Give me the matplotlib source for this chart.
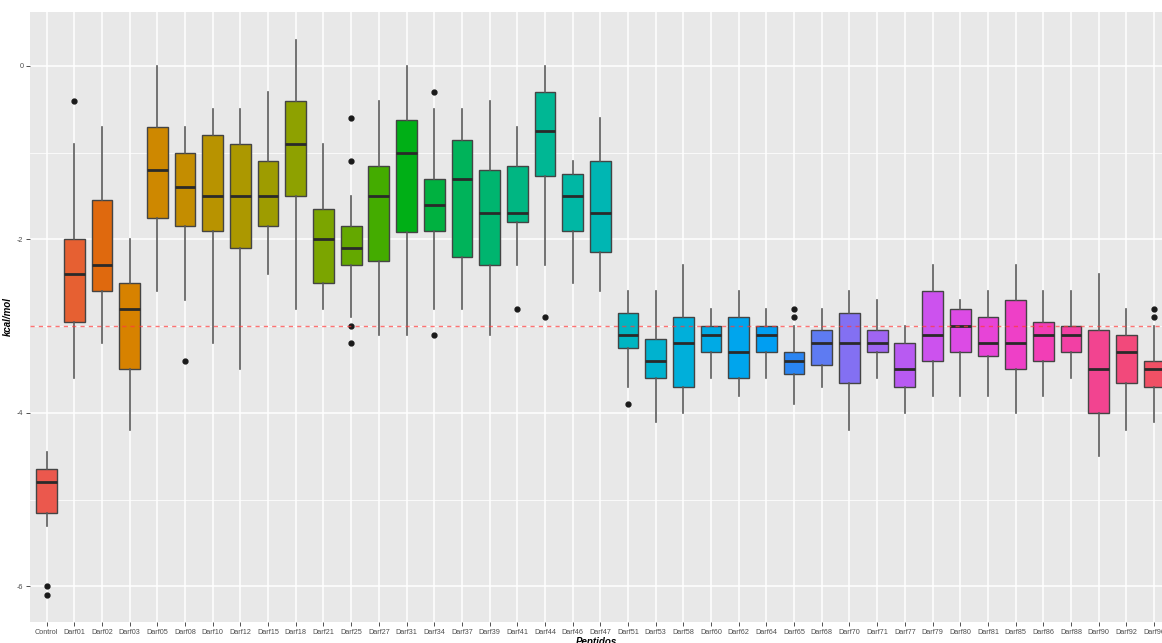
import numpy as np
import matplotlib
matplotlib.use("Agg")
import matplotlib.pyplot as plt
from matplotlib.colors import rgb_to_hsv, hsv_to_rgb

categories = ["Control", "Darf01", "Darf02", "Darf03", "Darf05", "Darf08", "Darf10",
              "Darf12", "Darf15", "Darf18", "Darf21", "Darf25", "Darf27", "Darf31",
              "Darf34", "Darf37", "Darf39", "Darf41", "Darf44", "Darf46", "Darf47",
              "Darf51", "Darf53", "Darf58", "Darf60", "Darf62", "Darf64", "Darf65",
              "Darf68", "Darf70", "Darf71", "Darf77", "Darf79", "Darf80", "Darf81",
              "Darf85", "Darf86", "Darf88", "Darf90", "Darf92", "Darf96"]

whisker_high = [-4.45, -0.90, -0.70, -2.00, 0.00, -0.70, -0.50, -0.50, -0.30, 0.30,
                -0.90, -1.50, -0.40, 0.00, -0.50, -0.50, -0.40, -0.70, 0.00, -1.10,
                -0.60, -2.60, -2.60, -2.30, -2.80, -2.60, -2.80, -3.00, -2.80, -2.60,
                -2.70, -3.00, -2.30, -2.70, -2.60, -2.30, -2.60, -2.60, -2.40, -2.80,
                -3.00]
q3 = [-4.65, -2.00, -1.55, -2.50, -0.70, -1.00, -0.80, -0.90, -1.10, -0.40,
      -1.65, -1.85, -1.15, -0.62, -1.30, -0.85, -1.20, -1.15, -0.30, -1.25,
      -1.10, -2.85, -3.15, -2.90, -3.00, -2.90, -3.00, -3.30, -3.05, -2.85,
      -3.05, -3.20, -2.60, -2.80, -2.90, -2.70, -2.95, -3.00, -3.05, -3.10,
      -3.40]
median = [-4.80, -2.40, -2.30, -2.80, -1.20, -1.40, -1.50, -1.50, -1.50, -0.90,
          -2.00, -2.10, -1.50, -1.00, -1.60, -1.30, -1.70, -1.70, -0.75, -1.50,
          -1.70, -3.10, -3.40, -3.20, -3.10, -3.30, -3.10, -3.40, -3.20, -3.20,
          -3.20, -3.50, -3.10, -3.00, -3.20, -3.20, -3.10, -3.10, -3.50, -3.30,
          -3.50]
q1 = [-5.15, -2.95, -2.60, -3.50, -1.75, -1.85, -1.90, -2.10, -1.85, -1.50,
      -2.50, -2.30, -2.25, -1.92, -1.90, -2.20, -2.30, -1.80, -1.27, -1.90,
      -2.15, -3.25, -3.60, -3.70, -3.30, -3.60, -3.30, -3.55, -3.45, -3.65,
      -3.30, -3.70, -3.40, -3.30, -3.35, -3.50, -3.40, -3.30, -4.00, -3.65,
      -3.70]
whisker_low = [-5.30, -3.60, -3.20, -4.20, -2.60, -2.70, -3.20, -3.50, -2.40, -2.80,
               -2.80, -2.90, -3.10, -3.10, -2.80, -2.80, -3.10, -2.30, -2.30, -2.50,
               -2.60, -3.70, -4.10, -4.00, -3.60, -3.80, -3.60, -3.90, -3.70, -4.20,
               -3.60, -4.00, -3.80, -3.80, -3.80, -4.00, -3.80, -3.60, -4.50, -4.20,
               -4.10]
outliers = [[-6.00, -6.10], [-0.40], [], [], [], [-3.40], [], [], [], [],
            [], [-0.60, -1.10, -3.00, -3.20], [], [], [-0.30, -3.10], [], [], [-2.80], [-2.90], [],
            [], [-3.90], [], [], [], [], [], [-2.80, -2.90], [], [],
            [], [], [], [], [], [], [], [], [], [],
            [-2.80, -2.90]]

y_ticks = [0, -2, -4, -6]
y_tick_labels = ["0", "-2", "-4", "-6"]
y_minor = [-1, -3, -5]
cutoff = -3


def hcl_to_rgb(h, c, l):
    # same conversion R's hcl() does (polar Luv, D65)
    white_u, white_v = 0.1978398, 0.4683363
    hr = np.deg2rad(h)
    U, V = c * np.cos(hr), c * np.sin(hr)
    Y = 100.0 * ((l + 16) / 116) ** 3 if l > 8 else 100.0 * l / 903.3
    u = U / (13 * l) + white_u
    v = V / (13 * l) + white_v
    X = 9.0 * Y * u / (4 * v)
    Z = -X / 3 - 5 * Y + 3 * Y / v
    X, Y, Z = X / 100, Y / 100, Z / 100
    r = 3.240479 * X - 1.537150 * Y - 0.498535 * Z
    g = -0.969256 * X + 1.875992 * Y + 0.041556 * Z
    b = 0.055648 * X - 0.204043 * Y + 1.057311 * Z
    out = []
    for t in (r, g, b):
        t = min(max(t, 0), 1)
        t = 1.055 * t ** (1 / 2.4) - 0.055 if t > 0.00304 else 12.92 * t
        out.append(min(max(t, 0), 1))
    return np.array(out)


n = len(categories)
hues = np.linspace(15, 375, n + 1)[:n]
colors = []
for h in hues:
    hsv = rgb_to_hsv(hcl_to_rgb(h, 100, 65))
    # the reference looks a bit more saturated than plain ggplot hues
    hsv[1] = min(hsv[1] * 1.2, 1.0)
    hsv[2] = hsv[2] * 0.95
    colors.append(hsv_to_rgb(hsv))

stats = []
for i in range(n):
    stats.append(dict(whislo=whisker_low[i], q1=q1[i], med=median[i], q3=q3[i],
                      whishi=whisker_high[i], fliers=outliers[i], label=categories[i]))

fig = plt.figure(figsize=(11.62, 6.43), dpi=100)
ax = fig.add_axes([30 / 1162, 1 - 622 / 643, 1 - 30 / 1162, (622 - 12) / 643])
ax.set_facecolor("#E8E8E8")

pos = np.arange(n)
edge = "#444444"
bp = ax.bxp(stats, positions=pos, widths=0.75, patch_artist=True, showcaps=False,
            boxprops=dict(edgecolor=edge, linewidth=1.0),
            whiskerprops=dict(color="#5a5a5a", linewidth=1.2),
            medianprops=dict(color="#2a2a2a", linewidth=2.0),
            flierprops=dict(marker="o", markerfacecolor="#1a1a1a", markeredgecolor="#1a1a1a",
                            markersize=3.5, linestyle="none"),
            zorder=3)
for patch, col in zip(bp["boxes"], colors):
    patch.set_facecolor(col)

ax.axhline(cutoff, color="#ff3b3b", linestyle=(0, (3, 3)), linewidth=1.0, alpha=0.7, zorder=4)

ax.set_xlim(-0.6, (1162 - 46) / 27.7)
ax.set_ylim(-6.41, 0.62)
ax.set_xticks(pos)
ax.set_xticklabels(categories)
ax.set_yticks(y_ticks)
ax.set_yticklabels(y_tick_labels)
ax.set_yticks(y_minor, minor=True)

ax.grid(which="major", color="white", linewidth=1.1, zorder=0)
ax.grid(which="minor", axis="y", color="white", linewidth=0.55, zorder=0)
ax.set_axisbelow(True)
for s in ax.spines.values():
    s.set_visible(False)

ax.tick_params(axis="both", which="major", length=2.8, width=0.6, color="#333333",
               labelsize=5.2, labelcolor="#4D4D4D", pad=2)
ax.tick_params(axis="y", which="minor", length=0)
for lab in ax.get_xticklabels() + ax.get_yticklabels():
    lab.set_fontfamily("Liberation Sans")

ax.set_xlabel("Peptidos", fontsize=7, fontweight="bold", fontstyle="italic",
              family="Liberation Sans", labelpad=1)
ax.set_ylabel("kcal/mol", fontsize=7, fontweight="bold", fontstyle="italic",
              family="Liberation Sans")
ax.yaxis.set_label_coords(-17 / 1132, 0.5)

fig.savefig("out.png", dpi=100, facecolor="white")
